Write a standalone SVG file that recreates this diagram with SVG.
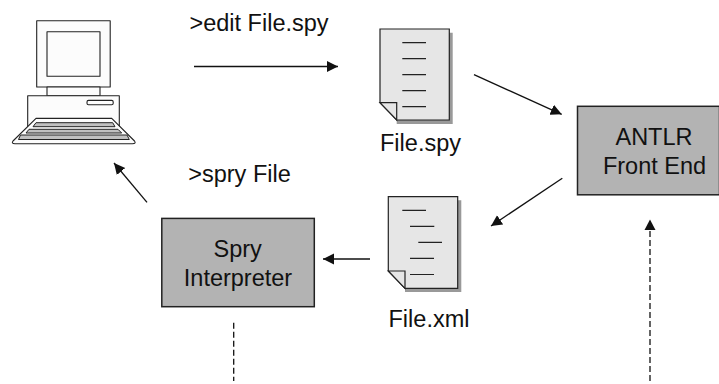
<svg xmlns="http://www.w3.org/2000/svg" width="719" height="384" viewBox="0 0 719 384">
<style>
text{font-family:"Liberation Sans",Arial,sans-serif;font-size:23.5px;fill:#111;text-anchor:middle}
.box{fill:#b3b3b3;stroke:#222;stroke-width:1.5}
.pc{fill:#fcfcfc;stroke:#222;stroke-width:1.1;stroke-linejoin:round}
.slot{fill:#c0c0c0;stroke:#222;stroke-width:1;stroke-linejoin:round}
.page{fill:#e6e6e6;stroke:#222;stroke-width:1.2;stroke-linejoin:miter}
.shadow{fill:#999;stroke:none}
.rule{stroke:#222;stroke-width:1.2;fill:none}
.conn{stroke:#111;stroke-width:1.3;fill:none;marker-end:url(#ah)}
.dash{stroke:#111;stroke-width:1.3;fill:none;stroke-dasharray:6 3}
</style>
<defs>
<marker id="ah" markerUnits="userSpaceOnUse" markerWidth="12" markerHeight="12" refX="11" refY="6" orient="auto"><path d="M0 0.500L11 6L0 11.500z" fill="#111"/></marker>
</defs>
<g id="computer">
<rect class="pc" x="36.700" y="20.700" width="73.500" height="66.300"/>
<rect class="pc" x="47" y="31.700" width="53" height="44.500"/>
<rect class="pc" x="47" y="87" width="53" height="8.700"/>
<rect class="pc" x="27.700" y="95.700" width="91.600" height="32"/>
<rect class="pc" x="87" y="100.400" width="26.200" height="4.300" rx="1.500"/>
<path class="pc" d="M36 118.400H111.700L134.500 141Q136.500 143.700 132.500 143.700H15Q11 143.700 13 141Z"/>
<path class="slot" d="M36 122.700H112.700L115 126.700H33Z"/>
<path class="slot" d="M29 129.300H118L121.700 133H26Z"/>
<path class="slot" d="M20.500 135H127L129.300 139.500H18.500Z"/>
</g>
<g id="file-spy">
<path class="shadow" d="M449 32.700H452.700V124H396.700V120H449Z"/>
<path class="page" d="M380 29H449.300V120H396.700L380 102.700Z"/>
<path class="page" d="M380 102.700H396.700V120Z"/>
<path class="rule" d="M402.300 42.700H426M402.300 58.700H426M402.300 74.700H426M402.300 90.700H426M402.300 106.700H426"/>
<text x="420.500" y="151">File.spy</text>
</g>
<g id="file-xml">
<path class="shadow" d="M457 200.300H461.300V292H405V288H457Z"/>
<path class="page" d="M388.300 196.700H457.700V288.300H405L388.300 271Z"/>
<path class="page" d="M388.300 271H405V288.300Z"/>
<path class="rule" d="M402.300 210.300H426M410 226.300H434.300M418.300 242.300H442M410 258.300H434M410 274.500H434"/>
<text x="429" y="327">File.xml</text>
</g>
<g id="antlr">
<rect class="box" x="577.500" y="106.300" width="142" height="88.500"/>
<text x="654" y="145">ANTLR</text>
<text x="654.500" y="173.500">Front End</text>
</g>
<g id="spry">
<rect class="box" x="161.800" y="218.400" width="152.500" height="88.300"/>
<text x="237.700" y="257">Spry</text>
<text x="238" y="286">Interpreter</text>
</g>
<g id="labels">
<text x="259" y="31">&gt;edit File.spy</text>
<text x="239.500" y="182">&gt;spry File</text>
</g>
<g id="connectors">
<path class="conn" d="M194 66.500H338"/>
<path class="conn" d="M474 74.700L561.700 114.300"/>
<path class="conn" d="M562.300 178.300L491 226"/>
<path class="conn" d="M370 259H323"/>
<path class="conn" d="M147 202.300L114 163"/>
<path class="dash" d="M233.700 322.700V381"/>
<path class="dash" d="M650 381V229"/>
<path d="M650 219.500L655.500 230H644.500Z" fill="#111"/>
</g>
</svg>
